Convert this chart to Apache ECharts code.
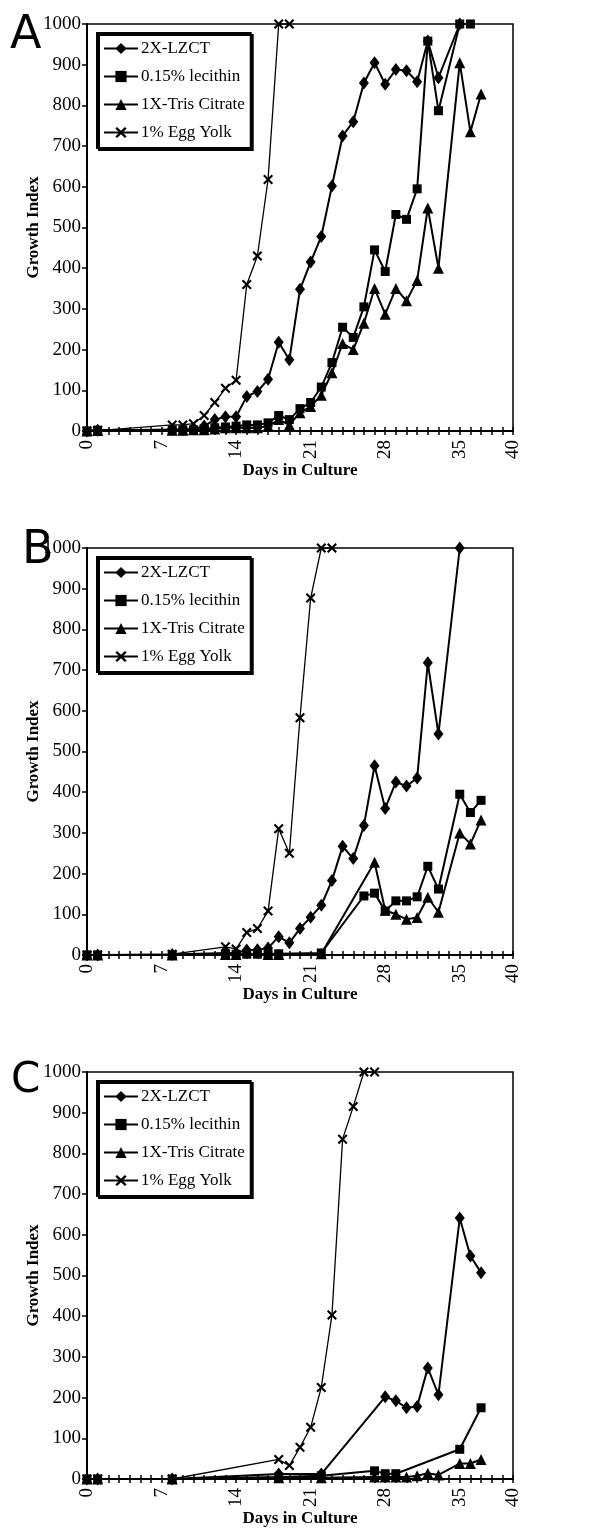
<!DOCTYPE html>
<html>
<head>
<meta charset="utf-8">
<script src="https://cdn.jsdelivr.net/npm/echarts@6/dist/echarts.min.js"></script>
<style>
body { margin: 0; background: #fff; }
.panel { width: 603px; height: 524px; }
</style>
</head>
<body>
<div id="pA" class="panel"></div>
<div id="pB" class="panel"></div>
<div id="pC" class="panel" style="height:488px"></div>
<script>
// day, growth index
const A_LZCT = [[0,0],[1,2],[8,3],[9,3],[10,5],[11,12],[12,28],[13,35],[14,35],[15,85],[16,97],[17,127],[18,218],[19,175],[20,348],[21,415],[22,478],[23,602],[24,725],[25,760],[26,855],[27,905],[28,852],[29,888],[30,885],[31,858],[32,958],[33,868],[35,1000]];
const A_LECITHIN = [[0,0],[1,2],[8,3],[9,3],[10,3],[11,5],[12,8],[13,10],[14,12],[15,15],[16,15],[17,20],[18,38],[19,28],[20,55],[21,70],[22,108],[23,168],[24,255],[25,230],[26,305],[27,445],[28,392],[29,532],[30,520],[31,595],[32,958],[33,787],[35,1000],[36,1000]];
const A_TRIS = [[0,0],[1,1],[8,2],[9,2],[10,3],[11,3],[12,5],[13,8],[14,8],[15,8],[16,8],[17,12],[18,28],[19,15],[20,45],[21,60],[22,88],[23,143],[24,215],[25,200],[26,265],[27,350],[28,287],[29,350],[30,320],[31,370],[32,548],[33,400],[35,905],[36,735],[37,828]];
const A_EGG = [[0,0],[1,1],[8,15],[9,15],[10,18],[11,38],[12,70],[13,105],[14,125],[15,360],[16,430],[17,618],[18,1000],[19,1000]];

const B_LZCT = [[0,0],[1,0],[8,1],[13,5],[14,5],[15,12],[16,13],[17,17],[18,45],[19,30],[20,65],[21,93],[22,122],[23,183],[24,267],[25,237],[26,318],[27,465],[28,360],[29,425],[30,415],[31,435],[32,718],[33,543],[35,1000]];
const B_LECITHIN = [[0,0],[1,0],[8,0],[13,2],[14,2],[15,2],[16,2],[17,3],[18,3],[22,5],[26,145],[27,152],[28,108],[29,133],[30,133],[31,143],[32,218],[33,162],[35,395],[36,350],[37,380]];
const B_TRIS = [[0,0],[1,0],[8,0],[13,1],[14,1],[17,1],[18,1],[22,3],[27,228],[28,110],[29,100],[30,88],[31,92],[32,142],[33,105],[35,300],[36,273],[37,332]];
const B_EGG = [[0,0],[1,0],[8,2],[13,20],[14,15],[15,55],[16,65],[17,108],[18,310],[19,250],[20,583],[21,877],[22,1000],[23,1000]];

const C_LZCT = [[0,0],[1,0],[8,0],[18,12],[22,12],[28,202],[29,192],[30,175],[31,178],[32,273],[33,207],[35,641],[36,548],[37,507]];
const C_LECITHIN = [[0,0],[1,0],[8,0],[18,5],[22,8],[27,20],[28,13],[29,13],[35,73],[37,175]];
const C_TRIS = [[0,0],[1,0],[8,0],[18,3],[22,3],[27,5],[28,5],[29,5],[30,5],[31,8],[32,14],[33,10],[35,38],[36,38],[37,48]];
const C_EGG = [[0,0],[1,0],[8,0],[18,48],[19,33],[20,78],[21,127],[22,225],[23,403],[24,835],[25,915],[26,1000],[27,1000]];

const SERIES_NAMES = ["2X-LZCT", "0.15% lecithin", "1X-Tris Citrate", "1% Egg Yolk"];
const X_LABELS = [0, 7, 14, 21, 28, 35, 40];

const SERIF = "Liberation Serif";
const CROSS = "path://M0,1.5L1.5,0L5,3.5L8.5,0L10,1.5L6.5,5L10,8.5L8.5,10L5,6.5L1.5,10L0,8.5L3.5,5Z";

function lineSeries(name, data, symbol, size, width) {
  return {
    name: name,
    type: "line",
    data: data,
    symbol: symbol,
    symbolSize: size,
    showAllSymbol: true,
    lineStyle: { color: "#000", width: width },
    itemStyle: { color: "#000" },
    emphasis: { disabled: true },
    animation: false,
  };
}

function makePanel(id, letter, letterX, letterY, letterSize, lzct, lec, tris, egg) {
  const chart = echarts.init(document.getElementById(id));
  chart.setOption({
    backgroundColor: "#fff",
    animation: false,
    graphic: [{
      type: "text",
      left: letterX,
      top: letterY,
      style: { text: letter, font: letterSize + "px 'DejaVu Sans'", fill: "#000" },
    }],
    legend: {
      orient: "vertical",
      left: 97,
      top: 33,
      padding: [7, 6, 7, 6],
      itemGap: 11,
      itemWidth: 34,
      itemHeight: 14,
      borderColor: "#000",
      borderWidth: 2,
      borderRadius: 0,
      backgroundColor: "#fff",
      shadowColor: "#000",
      shadowBlur: 0.1,
      shadowOffsetX: 2,
      shadowOffsetY: 2,
      textStyle: { fontFamily: SERIF, fontSize: 17, color: "#000", padding: [0, 0, 0, -2] },
      data: SERIES_NAMES,
      selectedMode: false,
    },
    grid: {
      left: 87, top: 24, width: 426, height: 407,
      show: true, borderColor: "#000", borderWidth: 1.5,
    },
    xAxis: [{
      type: "value",
      min: 0, max: 40, interval: 1,
      name: "Days in Culture",
      nameLocation: "middle",
      nameGap: 31,
      nameMoveOverlap: false,
      nameTextStyle: { fontFamily: SERIF, fontSize: 17, fontWeight: "bold", color: "#000" },
      axisLine: { lineStyle: { color: "#000", width: 2 } },
      axisTick: { length: 4, lineStyle: { color: "#000", width: 1.5 } },
      splitLine: { show: false },
      axisLabel: {
        rotate: 90,
        margin: 9,
        fontFamily: SERIF, fontSize: 19, color: "#000",
        formatter: function (v) { return X_LABELS.indexOf(v) >= 0 ? String(v) : ""; },
      },
    }, {
      type: "value",
      min: 0, max: 40, interval: 1,
      position: "bottom",
      axisLine: { show: false },
      axisTick: { inside: true, length: 4, lineStyle: { color: "#000", width: 1.5 } },
      axisLabel: { show: false },
      splitLine: { show: false },
    }],
    yAxis: {
      type: "value",
      min: 0, max: 1000, interval: 100,
      name: "Growth Index",
      nameLocation: "middle",
      nameGap: 45,
      nameMoveOverlap: false,
      nameTextStyle: { fontFamily: SERIF, fontSize: 17, fontWeight: "bold", color: "#000" },
      axisLine: { show: true, lineStyle: { color: "#000", width: 2 } },
      axisTick: { show: true, length: 5, lineStyle: { color: "#000", width: 1.5 } },
      splitLine: { show: false },
      axisLabel: {
        margin: 6, fontFamily: SERIF, fontSize: 19, color: "#000",
        formatter: function (v) { return String(v); },
      },
    },
    series: [
      lineSeries(SERIES_NAMES[0], lzct, "diamond", [10, 13], 2),
      lineSeries(SERIES_NAMES[1], lec, "rect", 9, 2),
      lineSeries(SERIES_NAMES[2], tris, "triangle", 11, 2),
      lineSeries(SERIES_NAMES[3], egg, CROSS, 10, 1.3),
    ],
  });
}

makePanel("pA", "A", 10, 13, 46, A_LZCT, A_LECITHIN, A_TRIS, A_EGG);
makePanel("pB", "B", 22, 4, 46, B_LZCT, B_LECITHIN, B_TRIS, B_EGG);
makePanel("pC", "C", 11, 12, 42, C_LZCT, C_LECITHIN, C_TRIS, C_EGG);
</script>
</body>
</html>
